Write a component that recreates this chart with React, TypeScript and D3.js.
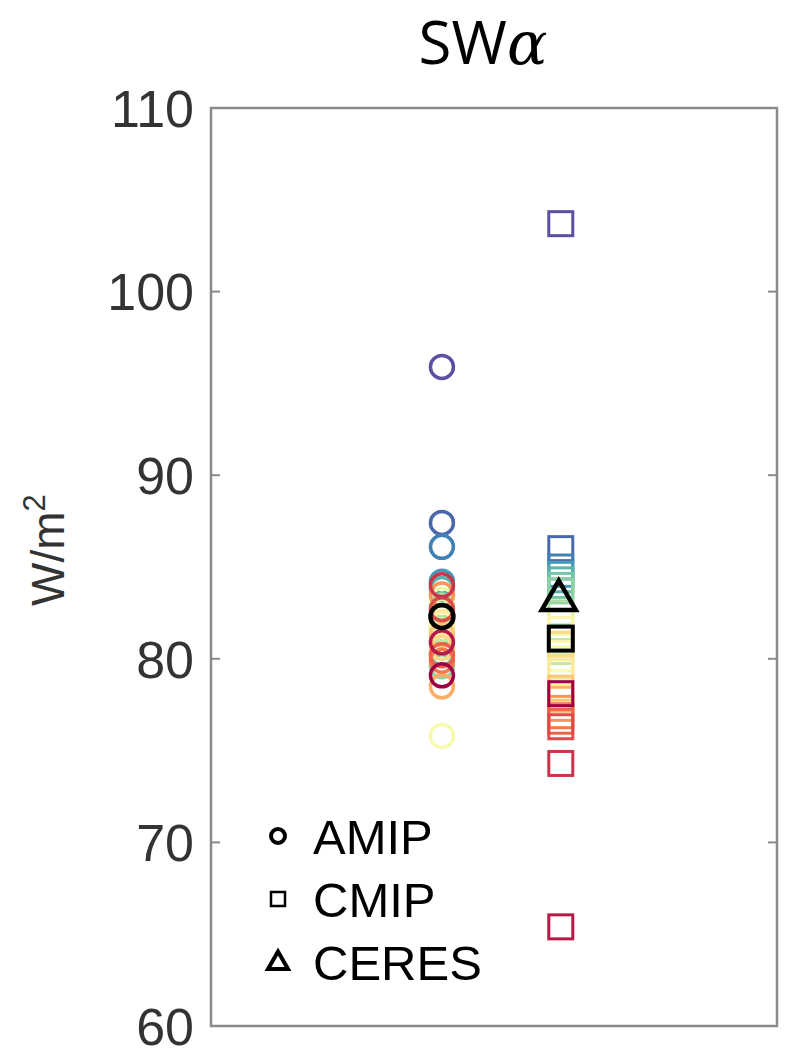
import React from "react";
import * as d3 from "d3";

const yTicks = [60, 70, 80, 90, 100, 110];
const groups = ["AMIP", "CMIP"];
const groupPos = [0.408, 0.618];

// per-model values, ordered along the Spectral colour map (purple -> crimson)
const amipValues = [95.9, 87.4, 86.1, 84.2, 83.8, 80.3, 79.6, 82.9, 81.6, 82.6, 83.2, 75.8, 81.9, 82.0, 80.6, 81.3, 78.5, 83.5, 79.9, 80.2, 82.7, 84.0, 80.9, 79.1];
const cmipValues = [103.7, 86.0, 85.0, 84.6, 84.3, 84.0, 83.7, 82.5, 80.4, 79.6, 82.0, 80.0, 81.6, 79.3, 80.8, 78.4, 77.8, 77.3, 76.9, 76.6, 76.3, 74.3, 65.4, 78.1];
const amipMean = 82.3;
const cmipMean = 81.1;
const ceresValue = 83.3;
const legendItems = ["AMIP", "CMIP", "CERES"];

export default function App() {
  const W = 789, H = 1051;
  const left = 211, right = 777, top = 108, bottom = 1026;
  const y = d3.scaleLinear().domain([60, 110]).range([bottom, top]);
  const x = d3.scaleLinear().domain([0, 1]).range([left, right]);
  const n = amipValues.length;
  const color = (i: number) => d3.interpolateSpectral(1 - i / (n - 1));
  const r = 11.5;
  const s = 24;
  const xa = x(groupPos[0]);
  const xc = x(groupPos[1]);
  const tri = (cx: number, cy: number, size: number) => {
    const h = size * Math.sqrt(3) / 2;
    return `M${cx},${cy - h * 0.6} L${cx + size / 2},${cy + h * 0.4} L${cx - size / 2},${cy + h * 0.4} Z`;
  };
  const axisColor = "#8a8a8a";
  const font = "Liberation Sans, Arial, sans-serif";
  return (
    <svg width={W} height={H} style={{ position: "absolute", left: 0, top: 0 }}>
      <rect x={0} y={0} width={W} height={H} fill="#fff" />
      <text x={483} y={64} textAnchor="middle" fontFamily="Open Sans, sans-serif" fontSize={60} fill="#000">
        SW<tspan fontStyle="italic" fontFamily="DejaVu Serif, serif">α</tspan>
      </text>
      <rect x={left} y={top} width={right - left} height={bottom - top} fill="none" stroke={axisColor} strokeWidth={2.5} />
      {yTicks.map((t) => (
        <g key={t}>
          <line x1={left} x2={left + 9} y1={y(t)} y2={y(t)} stroke={axisColor} strokeWidth={2} />
          <line x1={right - 9} x2={right} y1={y(t)} y2={y(t)} stroke={axisColor} strokeWidth={2} />
          <text x={left - 17} y={y(t)} dy="0.36em" textAnchor="end" fontFamily={font} fontSize={52} fill="#333">{t}</text>
        </g>
      ))}
      <text transform={`translate(64,${550}) rotate(-90)`} textAnchor="middle" fontFamily={font} fontSize={46} fill="#333">
        W/m<tspan dy="-19" fontSize={31}>2</tspan>
      </text>
      {amipValues.map((v, i) => (
        <circle key={"a" + i} cx={xa} cy={y(v)} r={r} fill="none" stroke={color(i)} strokeWidth={3.5} />
      ))}
      {cmipValues.map((v, i) => (
        <rect key={"c" + i} x={xc - s / 2} y={y(v) - s / 2} width={s} height={s} fill="none" stroke={color(i)} strokeWidth={3} />
      ))}
      <circle cx={xa} cy={y(amipMean)} r={r} fill="none" stroke="#000" strokeWidth={4.5} />
      <rect x={xc - s / 2} y={y(cmipMean) - s / 2} width={s} height={s} fill="none" stroke="#000" strokeWidth={4} />
      <path d={tri(xc - 2, y(ceresValue), 34)} fill="none" stroke="#000" strokeWidth={4.5} strokeLinejoin="miter" />
      {legendItems.map((name, i) => {
        const ly = 836 + i * 63;
        return (
          <g key={name}>
            {i === 0 && <circle cx={278} cy={ly} r={7} fill="none" stroke="#000" strokeWidth={4} />}
            {i === 1 && <rect x={271} y={ly - 7} width={14} height={14} fill="none" stroke="#000" strokeWidth={2.5} />}
            {i === 2 && <path d={tri(278, ly, 20)} fill="none" stroke="#000" strokeWidth={4} />}
            <text x={313} y={ly} dy="0.36em" fontFamily={font} fontSize={49} fill="#000">{name}</text>
          </g>
        );
      })}
    </svg>
  );
}
